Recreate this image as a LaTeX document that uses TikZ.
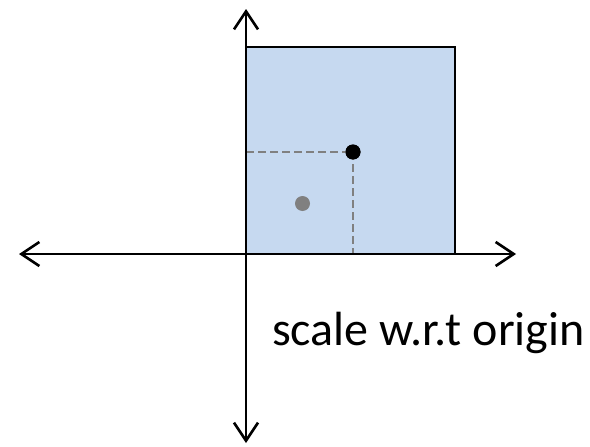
\documentclass[tikz,border=0pt]{standalone}
\usepackage{fontspec}
\setmainfont{Carlito}
\usetikzlibrary{arrows.meta,calc}
\definecolor{SquareClr}{RGB}{198,217,240}
\definecolor{GuideClr}{RGB}{128,128,128}

\begin{document}
\begin{tikzpicture}[x=1pt,y=-1pt,
  >={Straight Barb[length=18pt,width=24pt,line width=2.6pt]},
  axis/.style={line width=2.2pt,<->},
  guide/.style={line width=2.6pt,color=GuideClr,dash pattern=on 8pt off 4pt},
  dotmark/.style={circle,inner sep=0pt,minimum size=15pt}]
\useasboundingbox (0,0) rectangle (590,447);

\coordinate (O) at (246,254);
\coordinate (L) at (19,254);
\coordinate (R) at (516,254);
\coordinate (T) at (246,9);
\coordinate (B) at (246,443);
\coordinate (S) at (455,47);

% scaled square
\fill[SquareClr] (O) rectangle (S);

\node[dotmark,fill=black] (P) at (353,152) {};
\node[dotmark,fill=GuideClr] (Q) at (302.5,203.5) {};

\draw[guide] (O |- P) -- (P.center);
\draw[guide] (P.center) -- (P |- O);

\draw[line width=2.6pt] (O) rectangle (S);
\draw[axis] (L) -- (R);
\draw[axis] (B) -- (T);

\node[dotmark,fill=black] at (P) {};

\node[anchor=base west,inner sep=0pt,font=\fontsize{48}{54}\selectfont] (lbl) at (272,345) {scale w.r.t origin};

\end{tikzpicture}
\end{document}
